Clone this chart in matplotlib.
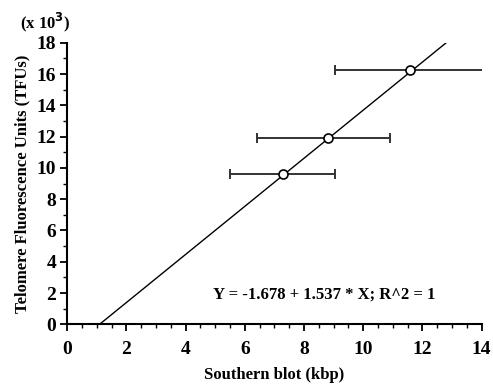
import matplotlib
matplotlib.use("Agg")
import matplotlib.pyplot as plt
import numpy as np
from matplotlib.ticker import MultipleLocator

# Data (Southern blot kbp vs TFU in thousands)
southern_kbp = [7.30, 8.82, 11.57]
tfu_thousands = [9.58, 11.89, 16.24]
xerr_low = [5.50, 6.41, 9.05]
xerr_high = [9.05, 10.90, 14.12]

intercept = -1.678
slope = 1.537
fit_label = "Y = -1.678 + 1.537 * X; R^2 = 1"

plt.rcParams['font.family'] = ['Liberation Serif', 'DejaVu Serif']
plt.rcParams['font.weight'] = 'bold'

fig = plt.figure(figsize=(4.93, 3.85), dpi=100)
ax = fig.add_axes([0.1365, 0.1577, 0.977 - 0.1365, 0.889 - 0.1577])

x = np.array(southern_kbp)
y = np.array(tfu_thousands)
xerr = np.array([x - np.array(xerr_low), np.array(xerr_high) - x])

# fit line from y=0 to y=18
x0 = (0 - intercept) / slope
x1 = (18 - intercept) / slope
ax.plot([x0, x1], [intercept + slope * x0, intercept + slope * x1], color='black', lw=1.0, zorder=2)

ax.errorbar(x, y, xerr=xerr, fmt='none', ecolor='#333333', elinewidth=1.4, capsize=3.5, capthick=1.4, zorder=3)
ax.plot(x, y, 'o', mfc='white', mec='black', ms=6.5, mew=1.2, zorder=4)

ax.set_xlim(0, 14)
ax.set_ylim(0, 18)
ax.xaxis.set_major_locator(MultipleLocator(2))
ax.xaxis.set_minor_locator(MultipleLocator(0.5))
ax.yaxis.set_major_locator(MultipleLocator(2))
ax.yaxis.set_minor_locator(MultipleLocator(1))

for s in ['top', 'right']:
    ax.spines[s].set_visible(False)
for s in ['left', 'bottom']:
    ax.spines[s].set_linewidth(1.5)

ax.tick_params(axis='both', which='major', direction='out', length=5, width=1.3, labelsize=14, pad=3)
ax.tick_params(axis='both', which='minor', direction='out', length=3, width=1.0)
for lab in ax.get_xticklabels() + ax.get_yticklabels():
    lab.set_fontweight('bold')
ax.tick_params(axis='x', pad=7)

ax.set_xlabel("Southern blot (kbp)", fontsize=12, fontweight='bold')
ax.set_ylabel("Telomere Fluorescence Units (TFUs)", fontsize=12, fontweight='bold')
ax.xaxis.set_label_coords(0.5, -0.152)
ax.yaxis.set_label_coords(-0.09, 0.5)

fig.text(0.04, 0.927, r"(x 10$^{\mathbf{3}}$)", fontsize=12, fontweight='bold', ha='left', va='baseline')

ax.text(0.352, 0.104, fit_label, transform=ax.transAxes, fontsize=12, fontweight='bold', ha='left', va='center')

fig.savefig("out.png", dpi=100)
